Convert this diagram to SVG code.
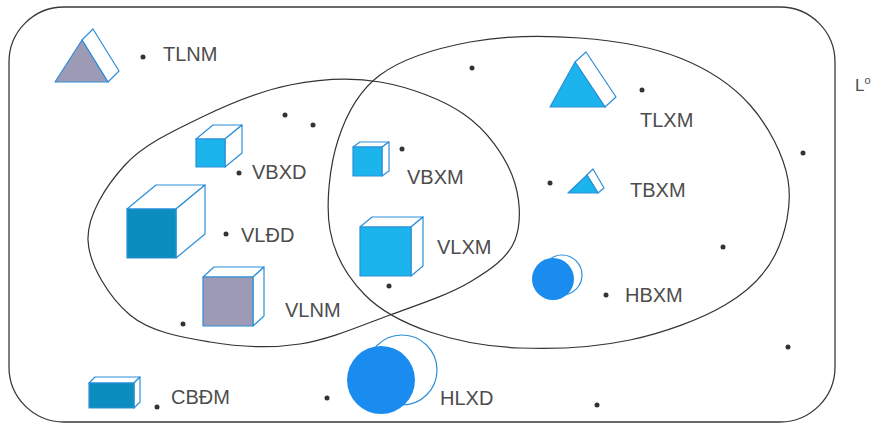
<svg xmlns="http://www.w3.org/2000/svg" width="871" height="425" viewBox="0 0 871 425">
  <style>
    .frame { fill: none; stroke: #3a3a3a; stroke-width: 1.3; }
    .set { fill: none; stroke: #333; stroke-width: 1.2; }
    .lbl { font-family: "Liberation Sans", Arial, sans-serif; font-size: 20px; fill: #4d4d4d; }
    .dot { fill: #333; }
    .edge { stroke: #2b8fd8; stroke-width: 1.2; stroke-linejoin: round; }
    .cyan { fill: #1bb4ec; }
    .teal { fill: #0b8dc0; }
    .gray { fill: #9c9ab4; }
    .ball { fill: #1a8cf0; }
    .side { fill: #ffffff; }
  </style>

  <rect width="871" height="425" fill="#ffffff"/>

  <!-- outer frame -->
  <rect class="frame" x="9" y="7" width="826" height="415" rx="55" ry="55"/>
  <text class="lbl" x="855" y="91" style="font-size:17px">L<tspan dy="-7" style="font-size:11px">o</tspan></text>

  <!-- set boundaries -->
  <g id="connectors">
    <path class="set" d="M88,240 C87.2,215 106.3,185.3 125,165 C143.7,144.7 172.5,131.3 200,118 C227.5,104.7 260,91 290,85 C320,79 350.8,77 380,82 C409.2,87 443,99.5 465,115 C487,130.5 503.7,154.2 512,175 C520.3,195.8 522,222.2 515,240 C508,257.8 490.8,269.5 470,282 C449.2,294.5 418.3,304.7 390,315 C361.7,325.3 330,339.5 300,344 C270,348.5 238.3,346.8 210,342 C181.7,337.2 150.3,332 130,315 C109.7,298 88.8,265 88,240 Z"/>
    <path class="set" d="M330,230 C325.5,204.2 329.7,165.8 338,140 C346.3,114.2 358,91.3 380,75 C402,58.7 436.7,48.2 470,42 C503.3,35.8 545,35.3 580,38 C615,40.7 651.7,46.8 680,58 C708.3,69.2 732,84.7 750,105 C768,125.3 783.8,155 788,180 C792.2,205 785.5,234.2 775,255 C764.5,275.8 749.2,290.8 725,305 C700.8,319.2 664.2,332.8 630,340 C595.8,347.2 553.3,349.3 520,348 C486.7,346.7 455.8,340.8 430,332 C404.2,323.2 381.7,312 365,295 C348.3,278 334.5,255.8 330,230 Z"/>
  </g>

  <!-- loose points -->
  <g id="points">
    <circle class="dot" cx="285" cy="115" r="2.5"/>
    <circle class="dot" cx="313" cy="125" r="2.5"/>
    <circle class="dot" cx="472" cy="68" r="2.5"/>
    <circle class="dot" cx="803" cy="153" r="2.5"/>
    <circle class="dot" cx="723" cy="247" r="2.5"/>
    <circle class="dot" cx="788" cy="347" r="2.5"/>
    <circle class="dot" cx="597" cy="405" r="2.5"/>
    <circle class="dot" cx="550" cy="183" r="2.5"/>
  </g>

  <g id="TLNM">
    <polygon class="side edge" points="82,40 93,29 119,71 108,82"/>
    <polygon class="gray edge" points="55,82 82,40 108,82"/>
    <circle class="dot" cx="143" cy="57" r="2.5"/>
    <text class="lbl" x="163" y="61">TLNM</text>
  </g>

  <g id="TLXM">
    <polygon class="side edge" points="575,62 586,52 616,97 605,107"/>
    <polygon class="cyan edge" points="550,107 575,62 605,107"/>
    <circle class="dot" cx="642" cy="90" r="2.5"/>
    <text class="lbl" x="640" y="127">TLXM</text>
  </g>

  <g id="TBXM">
    <polygon class="side edge" points="587,175 593,169 604,188 598,193"/>
    <polygon class="cyan edge" points="568,193 587,175 598,193"/>
    <text class="lbl" x="630" y="197">TBXM</text>
  </g>

  <g id="VBXD">
    <polygon class="side edge" points="196,139 213,125 242,125 225,139"/>
    <polygon class="side edge" points="225,139 242,125 242,153 225,167"/>
    <rect class="cyan edge" x="196" y="139" width="29" height="28"/>
    <circle class="dot" cx="239" cy="173" r="2.5"/>
    <text class="lbl" x="252" y="179">VBXD</text>
  </g>

  <g id="VLDD">
    <polygon class="side edge" points="127,209 156,185 205,185 176,209"/>
    <polygon class="side edge" points="176,209 205,185 205,234 176,258"/>
    <rect class="teal edge" x="127" y="209" width="49" height="49"/>
    <circle class="dot" cx="226" cy="234" r="2.5"/>
    <text class="lbl" x="241" y="242">VLĐD</text>
  </g>

  <g id="VLNM">
    <polygon class="side edge" points="203,277 214,267 264,267 253,277"/>
    <polygon class="side edge" points="253,277 264,267 264,316 253,326"/>
    <rect class="gray edge" x="203" y="277" width="50" height="49"/>
    <circle class="dot" cx="183" cy="324" r="2.5"/>
    <text class="lbl" x="285" y="317">VLNM</text>
  </g>

  <g id="VBXM">
    <polygon class="side edge" points="353,147 360,142 389,142 382,147"/>
    <polygon class="side edge" points="382,147 389,142 389,171 382,176"/>
    <rect class="cyan edge" x="353" y="147" width="29" height="29"/>
    <circle class="dot" cx="402" cy="149" r="2.5"/>
    <text class="lbl" x="407" y="184">VBXM</text>
  </g>

  <g id="VLXM">
    <polygon class="side edge" points="360,227 372,217 423,217 411,227"/>
    <polygon class="side edge" points="411,227 423,217 423,266 411,276"/>
    <rect class="cyan edge" x="360" y="227" width="51" height="49"/>
    <circle class="dot" cx="389" cy="286" r="2.5"/>
    <text class="lbl" x="437" y="254">VLXM</text>
  </g>

  <g id="HBXM">
    <circle class="side edge" cx="562" cy="275" r="20"/>
    <circle class="ball" cx="553" cy="279" r="21"/>
    <circle class="dot" cx="606" cy="295" r="2.5"/>
    <text class="lbl" x="625" y="302">HBXM</text>
  </g>

  <g id="HLXD">
    <circle class="side edge" cx="402" cy="370" r="35"/>
    <circle class="ball" cx="381" cy="380" r="34"/>
    <circle class="dot" cx="327" cy="398" r="2.5"/>
    <text class="lbl" x="440" y="405">HLXD</text>
  </g>

  <g id="CBDM">
    <polygon class="side edge" points="89,383 95,377 140,377 134,383"/>
    <polygon class="side edge" points="134,383 140,377 140,402 134,408"/>
    <rect class="teal edge" x="89" y="383" width="45" height="25"/>
    <circle class="dot" cx="157" cy="407" r="2.5"/>
    <text class="lbl" x="171" y="404">CBĐM</text>
  </g>
</svg>
